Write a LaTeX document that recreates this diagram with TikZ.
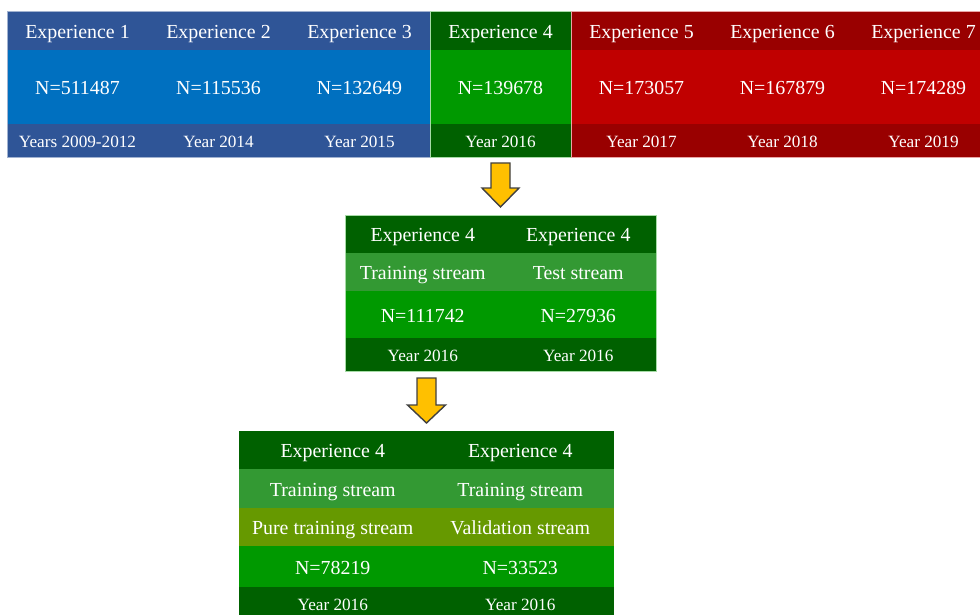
\documentclass[tikz,border=0pt]{standalone}
\usepackage{fontspec}
\setmainfont{Liberation Serif}
\definecolor{blueH}{HTML}{2F5597}
\definecolor{blueN}{HTML}{0070C0}
\definecolor{greenH}{HTML}{006100}
\definecolor{greenN}{HTML}{009900}
\definecolor{greenT}{HTML}{339933}
\definecolor{oliveP}{HTML}{669900}
\definecolor{redH}{HTML}{990000}
\definecolor{redN}{HTML}{C00000}
\definecolor{arrowfill}{HTML}{FFC000}
\definecolor{arrowedge}{HTML}{404040}
\begin{document}
\begin{tikzpicture}[x=1pt,y=-1pt,
  cell/.style={inner sep=0pt,outer sep=0pt,text=white,align=center,text depth=0pt},
  big/.style={font=\fontsize{19.9}{22}\selectfont,text height=15.9pt},
  small/.style={font=\fontsize{17.2}{20}\selectfont,text height=13.8pt},
  topcol/.style={cell,minimum width=141.2pt},
  midcol/.style={cell,minimum width=155.7pt},
  botcol/.style={cell,minimum width=187.7pt},
  blockarrow/.style={fill=arrowfill,draw=arrowedge,line width=1.4pt,line join=miter}]
\useasboundingbox (0,0) rectangle (980,615);
\clip (0,0) rectangle (980,615);
% ---- top bar ----
\foreach \i/\lab/\nn/\yr/\ch/\cn in {
  1/Experience 1/N=511487/Years 2009-2012/blueH/blueN,
  2/Experience 2/N=115536/Year 2014/blueH/blueN,
  3/Experience 3/N=132649/Year 2015/blueH/blueN,
  4/Experience 4/N=139678/Year 2016/greenH/greenN,
  5/Experience 5/N=173057/Year 2017/redH/redN,
  6/Experience 6/N=167879/Year 2018/redH/redN,
  7/Experience 7/N=174289/Year 2019/redH/redN}{
  \pgfmathsetmacro{\cx}{77.5+141*(\i-1)}
  \node[topcol,big,fill=\ch,minimum height=39.2pt] (h\i) at (\cx,30.5) {\lab};
  \node[topcol,big,fill=\cn,minimum height=74.2pt] (n\i) at (\cx,87) {\nn};
  \node[topcol,small,fill=\ch,minimum height=33.2pt] (y\i) at (\cx,140.5) {\yr};
}
\draw[draw=blueH!45,line width=0.7pt] (h1.north west) rectangle (y3.south east);
\draw[draw=greenN!35,line width=0.7pt] (h4.north west) rectangle (y4.south east);
\draw[draw=redN!35,line width=0.7pt] (h5.north west) rectangle (y7.south east);
% ---- arrow 1 ----
\draw[blockarrow] (491,163) -- (510,163) -- (510,188) -- (519,188) -- (500.5,207)
  -- (482,188) -- (491,188) -- cycle;
% ---- middle box ----
\node[midcol,minimum height=38.2pt,big,fill=greenH] (mh1) at (422.75,234) {Experience 4};
\node[midcol,minimum height=38.2pt,big,fill=greenH] (mh2) at (578.25,234) {Experience 4};
\node[midcol,minimum height=38.2pt,big,fill=greenT] (mt1) at (422.75,272) {Training stream};
\node[midcol,minimum height=38.2pt,big,fill=greenT] (mt2) at (578.25,272) {Test stream};
\node[midcol,minimum height=47.2pt,big,fill=greenN] (mn1) at (422.75,314.5) {N=111742};
\node[midcol,minimum height=47.2pt,big,fill=greenN] (mn2) at (578.25,314.5) {N=27936};
\node[midcol,minimum height=33.2pt,small,fill=greenH] (my1) at (422.75,354.5) {Year 2016};
\node[midcol,minimum height=33.2pt,small,fill=greenH] (my2) at (578.25,354.5) {Year 2016};
\draw[draw=greenN!35,line width=0.7pt] (mh1.north west) rectangle (my2.south east);
% ---- arrow 2 ----
\draw[blockarrow] (417,378) -- (436,378) -- (436,405) -- (445.5,405) -- (426.5,423)
  -- (407.5,405) -- (417,405) -- cycle;
% ---- bottom box ----
\node[botcol,minimum height=38.2pt,big,fill=greenH] (bh1) at (332.75,450) {Experience 4};
\node[botcol,minimum height=38.2pt,big,fill=greenH] (bh2) at (520.25,450) {Experience 4};
\node[botcol,minimum height=39.2pt,big,fill=greenT] (bt1) at (332.75,488.5) {Training stream};
\node[botcol,minimum height=39.2pt,big,fill=greenT] (bt2) at (520.25,488.5) {Training stream};
\node[botcol,minimum height=38.2pt,big,fill=oliveP] (bp1) at (332.75,527) {Pure training stream};
\node[botcol,minimum height=38.2pt,big,fill=oliveP] (bp2) at (520.25,527) {Validation stream};
\node[botcol,minimum height=41.2pt,big,fill=greenN] (bn1) at (332.75,566.5) {N=78219};
\node[botcol,minimum height=41.2pt,big,fill=greenN] (bn2) at (520.25,566.5) {N=33523};
\node[botcol,minimum height=34.2pt,small,fill=greenH] (by1) at (332.75,604) {Year 2016};
\node[botcol,minimum height=34.2pt,small,fill=greenH] (by2) at (520.25,604) {Year 2016};
\end{tikzpicture}
\end{document}
